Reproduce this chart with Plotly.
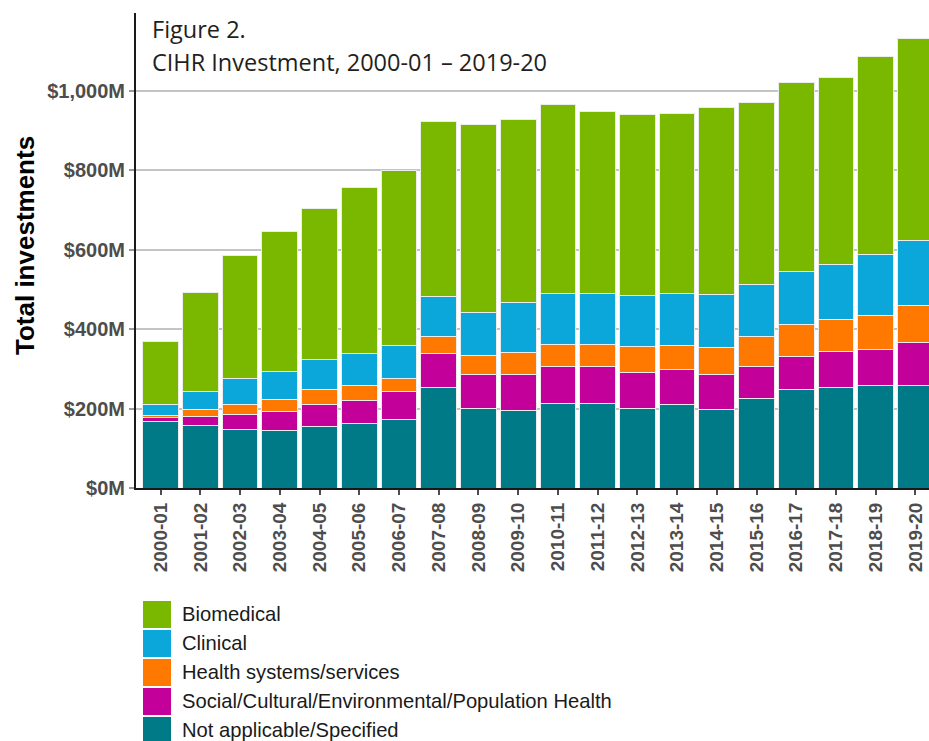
import plotly.graph_objects as go

years = ["2000-01", "2001-02", "2002-03", "2003-04", "2004-05", "2005-06", "2006-07",
         "2007-08", "2008-09", "2009-10", "2010-11", "2011-12", "2012-13", "2013-14",
         "2014-15", "2015-16", "2016-17", "2017-18", "2018-19", "2019-20"]

# values in $M, stacked bottom to top
not_applicable = [168, 157, 148, 144, 154, 162, 173, 254, 199, 194, 212, 214, 201, 210, 197, 226, 248, 252, 258, 258]
social = [9, 24, 38, 48, 57, 59, 70, 85, 86, 91, 93, 91, 91, 89, 90, 81, 82, 91, 90, 108]
health_systems = [6, 16, 24, 31, 36, 36, 32, 42, 48, 55, 57, 57, 65, 60, 66, 74, 82, 81, 87, 94]
clinical = [26, 47, 65, 70, 77, 82, 85, 101, 108, 126, 129, 129, 128, 130, 134, 131, 134, 139, 152, 163]
biomedical = [160, 249, 311, 353, 380, 417, 439, 442, 475, 462, 474, 458, 455, 453, 471, 459, 476, 471, 499, 510]

series_names = ["Not applicable/Specified",
                "Social/Cultural/Environmental/Population Health",
                "Health systems/services", "Clinical", "Biomedical"]
series_values = [not_applicable, social, health_systems, clinical, biomedical]
series_colors = ["#007A87", "#C4009A", "#FF7900", "#0BA6DA", "#7AB800"]

tick_vals = [0, 200, 400, 600, 800, 1000]
tick_text = ["$0M", "$200M", "$400M", "$600M", "$800M", "$1,000M"]

W, H = 929, 741
L, R, T, B = 136, 0, 13, 253
pw, ph = W - L - R, H - T - B

def px_x(x):
    return (x - L) / pw

def px_y(y):
    return (H - B - y) / ph

fig = go.Figure()
for name, vals, col in zip(series_names, series_values, series_colors):
    fig.add_trace(go.Bar(x=years, y=vals, name=name, marker_color=col,
                         marker_line=dict(color="#ececec", width=1),
                         showlegend=False))

# custom legend (top to bottom: Biomedical ... Not applicable)
shapes = []
annotations = []
for i, (name, col) in enumerate(zip(series_names[::-1], series_colors[::-1])):
    top = 601 + 29 * i
    shapes.append(dict(type="rect", xref="paper", yref="paper",
                       x0=px_x(143), x1=px_x(171), y0=px_y(top + 27), y1=px_y(top),
                       fillcolor=col, line=dict(width=0)))
    annotations.append(dict(xref="paper", yref="paper", x=px_x(180), y=px_y(top + 12.5),
                            xanchor="left", yanchor="middle", showarrow=False, text=name,
                            font=dict(family="Liberation Sans, Arial", size=20.2, color="#1a1a1a")))

annotations.append(dict(xref="paper", yref="paper", x=px_x(150), y=px_y(29),
                        xanchor="left", yanchor="middle", showarrow=False, text="Figure 2.",
                        font=dict(family="Open Sans", size=23.5, color="#231f20")))
annotations.append(dict(xref="paper", yref="paper", x=px_x(150), y=px_y(62),
                        xanchor="left", yanchor="middle", showarrow=False,
                        text="CIHR Investment, 2000-01 – 2019-20",
                        font=dict(family="Open Sans", size=23.5, color="#231f20")))
annotations.append(dict(xref="paper", yref="paper", x=px_x(25), y=px_y(246),
                        xanchor="center", yanchor="middle", showarrow=False,
                        text="Total investments", textangle=-90,
                        font=dict(family="Liberation Sans, Arial", size=26, color="#000000",
                                  weight="bold")))

fig.update_layout(
    width=W, height=H, barmode="stack", bargap=0.1,
    margin=dict(l=L, r=R, t=T, b=B, pad=0),
    paper_bgcolor="white", plot_bgcolor="white",
    shapes=shapes, annotations=annotations,
    xaxis=dict(type="category", range=[-0.62, 19.34], tickangle=-90, showgrid=False,
               showline=True, linecolor="#1a1a1a", linewidth=2,
               ticks="outside", ticklen=5, tickcolor="#4d4d4d", tickwidth=1.5,
               tickfont=dict(family="Liberation Sans, Arial", size=19, color="#4d4d4d",
                             weight="bold")),
    yaxis=dict(range=[0, 1196], tickvals=tick_vals, ticktext=tick_text,
               showgrid=True, gridcolor="#c4c4c4", gridwidth=1.5, zeroline=False,
               showline=True, linecolor="#1a1a1a", linewidth=2,
               ticks="outside", ticklen=5, tickcolor="#9a9a9a", tickwidth=1.5,
               tickfont=dict(family="Liberation Sans, Arial", size=20, color="#4d4d4d",
                             weight="bold")),
)

fig.write_html("out.html", config={"displayModeBar": False},
               post_script="document.body.style.margin='0';document.body.style.overflow='hidden';")
